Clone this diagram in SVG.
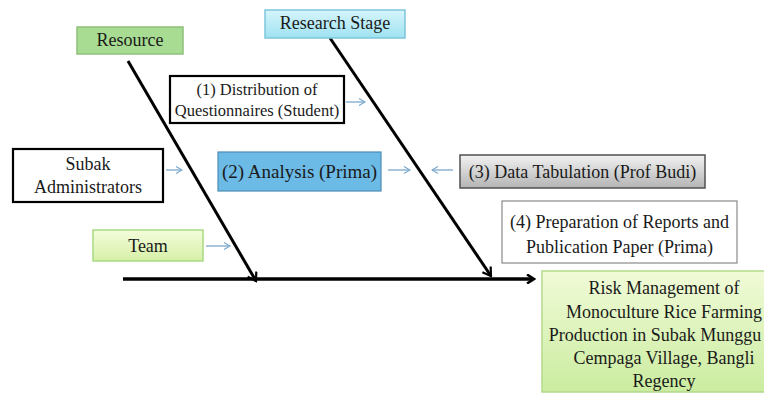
<svg xmlns="http://www.w3.org/2000/svg" width="764" height="394" viewBox="0 0 764 394">
<style>
text{font-family:"Liberation Serif","Times New Roman",serif;font-size:18px;fill:#1a1a1a;text-anchor:middle}
.spine{stroke:#000;stroke-width:3.5;fill:none}
.bone{stroke:#000;stroke-width:3;fill:none}
.small{stroke:#7aa8cc;stroke-width:1.3;fill:none}
</style>
<defs>
<linearGradient id="gCyan" x1="0" y1="0" x2="0" y2="1"><stop offset="0" stop-color="#d6f5fb"/><stop offset="1" stop-color="#9fe2f1"/></linearGradient>
<linearGradient id="gGray" x1="0" y1="0" x2="0" y2="1"><stop offset="0" stop-color="#f2f2f2"/><stop offset="1" stop-color="#b4b4b4"/></linearGradient>
<linearGradient id="gTeam" x1="0" y1="0" x2="0" y2="1"><stop offset="0" stop-color="#f4fcdc"/><stop offset="1" stop-color="#d6f0a6"/></linearGradient>
<linearGradient id="gRes" x1="0" y1="0" x2="0" y2="1"><stop offset="0" stop-color="#f1fbd8"/><stop offset="1" stop-color="#cbeca0"/></linearGradient>
<marker id="bigArrow" markerWidth="10" markerHeight="10" refX="7" refY="5" orient="auto" markerUnits="userSpaceOnUse" viewBox="0 0 10 10"><path d="M1,0.5 L8,5 L1,9.5" fill="none" stroke="#000" stroke-width="2.6"/></marker>
<marker id="boneArrow" markerWidth="12" markerHeight="12" refX="10" refY="6" orient="auto" markerUnits="userSpaceOnUse" viewBox="0 0 12 12"><path d="M2,1 L10,6 L2,11" fill="none" stroke="#000" stroke-width="2.2"/></marker>
<marker id="smallArrow" markerWidth="8" markerHeight="8" refX="7" refY="4" orient="auto" markerUnits="userSpaceOnUse" viewBox="0 0 8 8"><path d="M1,0.5 L7,4 L1,7.5" fill="none" stroke="#7aa8cc" stroke-width="1.2"/></marker>
</defs>
<rect width="764" height="394" fill="#fff"/>

<g id="connectors">
<line class="spine" x1="123" y1="279" x2="533" y2="279" marker-end="url(#bigArrow)"/>
<line class="bone" x1="128" y1="61" x2="256" y2="281" marker-end="url(#boneArrow)"/>
<line class="bone" x1="330" y1="38" x2="491" y2="276" marker-end="url(#boneArrow)"/>
<line class="small" x1="346" y1="102" x2="365" y2="102" marker-end="url(#smallArrow)"/>
<line class="small" x1="166" y1="170" x2="182" y2="170" marker-end="url(#smallArrow)"/>
<line class="small" x1="388" y1="170" x2="410" y2="170" marker-end="url(#smallArrow)"/>
<line class="small" x1="453" y1="170" x2="432" y2="170" marker-end="url(#smallArrow)"/>
<line class="small" x1="206" y1="246" x2="230" y2="246" marker-end="url(#smallArrow)"/>
</g>

<g id="resource">
<rect x="77" y="27" width="106" height="27" fill="#a8dc92" stroke="#8fc07a" stroke-width="1.5"/>
<text x="130" y="46">Resource</text>
</g>
<g id="research-stage">
<rect x="265" y="10" width="140" height="28" fill="url(#gCyan)" stroke="#7ec6da" stroke-width="1.5"/>
<text x="335" y="29">Research Stage</text>
</g>
<g id="distribution">
<rect x="170" y="76" width="174" height="47" fill="#fff" stroke="#000" stroke-width="2.2"/>
<text x="257" y="95" style="font-size:16.5px">(1) Distribution of</text>
<text x="257" y="116" style="font-size:16.5px">Questionnaires (Student)</text>
</g>
<g id="subak-admin">
<rect x="13" y="149" width="150" height="53" fill="#fff" stroke="#000" stroke-width="2.2"/>
<text x="88" y="170">Subak</text>
<text x="88" y="193">Administrators</text>
</g>
<g id="analysis">
<rect x="218" y="152" width="163" height="39" fill="#6cbae6" stroke="#4e8db4" stroke-width="1.2"/>
<text x="299.5" y="178" style="font-size:19px">(2) Analysis (Prima)</text>
</g>
<g id="data-tabulation">
<rect x="460" y="155" width="245" height="33" fill="url(#gGray)" stroke="#505050" stroke-width="1.5"/>
<text x="582.5" y="178">(3) Data Tabulation (Prof Budi)</text>
</g>
<g id="preparation">
<rect x="502" y="201" width="235" height="62" fill="#fff" stroke="#8a8a8a" stroke-width="1.2"/>
<text x="619.5" y="228">(4) Preparation of Reports and</text>
<text x="619.5" y="253">Publication Paper (Prima)</text>
</g>
<g id="team">
<rect x="93" y="230" width="110" height="31" fill="url(#gTeam)" stroke="#a9d982" stroke-width="1.5"/>
<text x="148" y="252">Team</text>
</g>
<g id="result">
<rect x="542" y="271" width="250" height="121" fill="url(#gRes)" stroke="#b3da8a" stroke-width="1.5"/>
<text x="664" y="294">Risk Management of</text>
<text x="664" y="318">Monoculture Rice Farming</text>
<text x="655" y="341">Production in Subak Munggu</text>
<text x="664" y="364">Cempaga Village, Bangli</text>
<text x="664" y="387">Regency</text>
</g>
</svg>
